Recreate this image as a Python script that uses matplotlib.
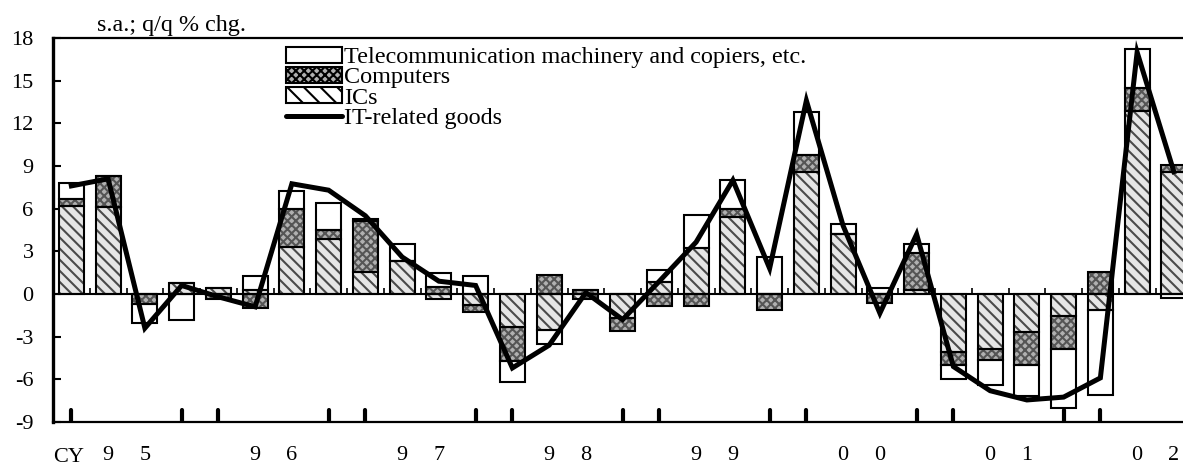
import numpy as np
import matplotlib
matplotlib.use('Agg')
import matplotlib.pyplot as plt
from matplotlib.patches import Patch
from matplotlib.lines import Line2D

plt.rcParams['font.family'] = ['Liberation Serif', 'DejaVu Serif']
plt.rcParams['hatch.linewidth'] = 1.5
plt.rcParams['axes.unicode_minus'] = False

# quarterly data, CY1995 Q1 - CY2002 Q3 (s.a., q/q % chg.)
ics = [6.2, 6.1, 0.0, 0.8, 0.4, 0.25, 3.3, 3.9, 1.55, 2.35,
       -0.35, -0.8, -2.3, -2.55, -0.35, -1.7, 0.85, 3.2, 5.4, 0.0,
       8.6, 4.25, 0.0, 0.25, -4.1, -3.85, -2.7, -1.55, -1.15, 12.9, 8.6]
computers = [0.5, 2.2, -0.7, 0.0, -0.35, -0.95, 2.7, 0.6, 3.6, 0.0,
             0.5, -0.45, -2.4, 1.35, 0.25, -0.9, -0.85, -0.85, 0.6, -1.1,
             1.15, 0.0, -0.6, 2.65, -0.9, -0.8, -2.3, -2.3, 1.55, 1.6, 0.45]
telecom = [1.1, 0.0, -1.35, -1.8, 0.0, 1.0, 1.25, 1.9, 0.15, 1.2,
           0.95, 1.3, -1.5, -1.0, 0.0, 0.0, 0.85, 2.35, 2.05, 2.6,
           3.05, 0.7, 0.45, 0.65, -0.95, -1.75, -2.2, -4.15, -5.95, 2.75, -0.3]
it_goods = [7.6, 8.1, -2.4, 0.6, -0.2, -0.9, 7.75, 7.3, 5.5, 2.6,
            0.9, 0.6, -5.2, -3.6, 0.1, -1.8, 0.9, 3.65, 8.0, 1.8,
            13.6, 4.8, -1.35, 4.2, -5.1, -6.8, -7.45, -7.25, -5.9, 17.0, 8.6]
years = ['95', '96', '97', '98', '99', '00', '01', '02']
mark_idx = [0, 3, 4, 7, 8, 11, 12, 15, 16, 19, 20, 23, 24, 27, 28]
yticks = [-9, -6, -3, 0, 3, 6, 9, 12, 15, 18]

n = len(it_goods)
x = np.arange(n)

labels = [''] * n
for k, yr in enumerate(years):
    labels[4 * k + 1] = yr[0]
    labels[4 * k + 2] = yr[1]

fig = plt.figure(figsize=(11.83, 4.67), dpi=100)
ax = fig.add_axes([53 / 1183, 1 - 422 / 467, 31 * 36.75 / 1183, 384 / 467])

# stacked bars, positives and negatives stacked separately
styles = [
    dict(facecolor='#e6e6e6', edgecolor='#4a4a4a', hatch='\\' * 3),   # ICs
    dict(facecolor='#b0b0b0', edgecolor='#555555', hatch='xxxx'),    # Computers
    dict(facecolor='white', edgecolor='white', hatch=None),          # Telecom
]
pos_base = np.zeros(n)
neg_base = np.zeros(n)
for vals, st in zip([ics, computers, telecom], styles):
    v = np.array(vals)
    bottom = np.where(v >= 0, pos_base, neg_base)
    ax.bar(x, v, 0.68, bottom=bottom, linewidth=0, zorder=2, **st)
    ax.bar(x, v, 0.68, bottom=bottom, fill=False, edgecolor='black',
           linewidth=1.5, zorder=2.2)
    pos_base += np.clip(v, 0, None)
    neg_base += np.clip(v, None, 0)

ax.plot(x, it_goods, color='black', linewidth=3.6, solid_joinstyle='miter',
        zorder=3)

# zero line with small ticks between quarters
ax.axhline(0, color='black', linewidth=1.5, zorder=2.5)
ax.vlines(x[:-1] + 0.5, 0, 0.42, color='black', linewidth=1.2, zorder=2.5)
# year markers along the bottom
ax.vlines(mark_idx, -9, -8.15, color='black', linewidth=3,
          capstyle='round', zorder=2.5)

ax.set_xlim(-0.5, n - 0.5)
ax.set_ylim(-9, 18)
ax.set_yticks(yticks)
ax.tick_params(axis='y', direction='in', length=6, width=1.5, pad=14,
               labelsize=16)
ax.set_xticks(x)
ax.set_xticklabels(labels)
ax.tick_params(axis='x', length=0, pad=17.5, labelsize=16)
ax.text(-0.5, -0.104, 'CY', transform=ax.get_xaxis_transform(),
        ha='left', va='baseline', fontsize=16)

ax.spines['right'].set_visible(False)
ax.spines['left'].set_linewidth(2.4)
ax.spines['top'].set_linewidth(1.6)
ax.spines['bottom'].set_linewidth(1.6)

fig.text(97 / 1183, 1 - 31 / 467, 's.a.; q/q % chg.', fontsize=17.4,
         ha='left', va='baseline')

handles = [
    Patch(facecolor='white', edgecolor='black', linewidth=1.5),
    Patch(facecolor='#b0b0b0', edgecolor='black', linewidth=1.5, hatch='xxxx'),
    Patch(facecolor='white', edgecolor='black', linewidth=1.5, hatch='\\' * 2),
    Line2D([], [], color='black', linewidth=3.6, solid_capstyle='round'),
]
names = ['Telecommunication machinery and copiers, etc.', 'Computers',
         'ICs', 'IT-related goods']
fig.legend(handles, names, loc='upper left',
           bbox_to_anchor=(286 / 1183, 1 - 47 / 467), frameon=False,
           fontsize=17.4, handlelength=2.3, handleheight=0.62,
           handletextpad=0.1, labelspacing=-0.05, borderpad=0,
           borderaxespad=0)

fig.savefig('out.png', dpi=100)
